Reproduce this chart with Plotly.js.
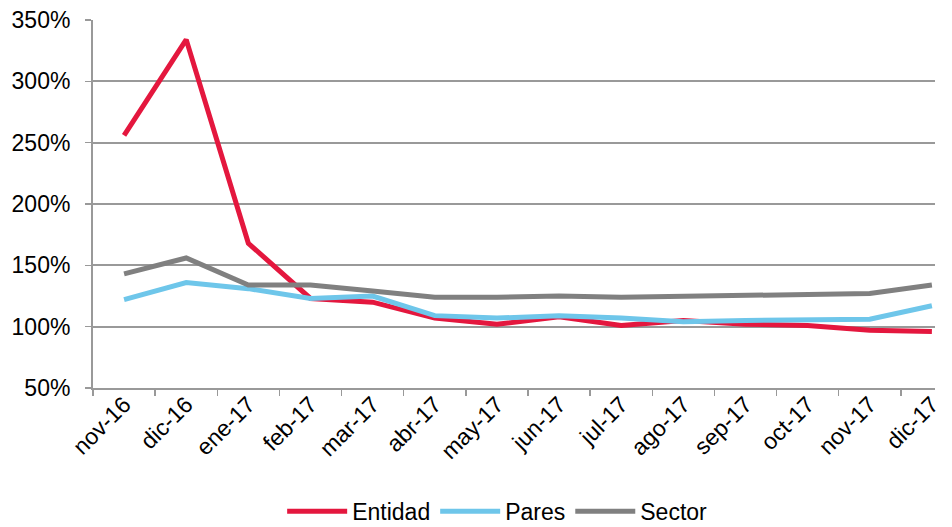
<!DOCTYPE html>
<html>
<head>
<meta charset="utf-8">
<script src="https://cdn.plot.ly/plotly-3.0.1.min.js"></script>
<style>html,body{margin:0;padding:0;background:#fff;}#chart{width:952px;height:527px;}</style>
</head>
<body>
<div id="chart"></div>
<script>
const categories = ["nov-16","dic-16","ene-17","feb-17","mar-17","abr-17","may-17","jun-17","jul-17","ago-17","sep-17","oct-17","nov-17","dic-17"];
const entidad = [256, 334, 168, 123, 120, 107, 102, 108, 101, 105, 102, 101, 97, 96];
const pares   = [122, 136, 131, 123, 125, 109, 107, 109, 107, 104, 105, 105, 106, 117];
const sector  = [143, 156, 134, 134, 129, 124, 124, 125, 124, 125, 125, 126, 127, 134];
const yTicks = [50, 100, 150, 200, 250, 300, 350];

const mk = (name, y, color) => ({
  type: "scatter", mode: "lines", name: name,
  x: categories, y: y,
  line: {color: color, width: 5}
});

const data = [
  mk("Entidad", entidad, "#E4173E"),
  mk("Pares", pares, "#6EC6EA"),
  mk("Sector", sector, "#808080")
];

const font = {family: "Liberation Sans, Arial, sans-serif", size: 23, color: "#000"};

const layout = {
  width: 952, height: 527,
  margin: {l: 93, r: 17, t: 20, b: 139},
  paper_bgcolor: "#fff", plot_bgcolor: "#fff",
  font: font,
  showlegend: true,
  legend: {orientation: "h", x: 0.48, xanchor: "center", xref: "paper",
           y: 0.03, yref: "container", yanchor: "middle",
           font: font, itemwidth: 60, traceorder: "normal"},
  xaxis: {
    type: "category",
    range: [-0.5, 13.05],
    tickangle: -45, tickfont: font, ticklabelstandoff: -8,
    showgrid: false, zeroline: false,
    showline: true, linecolor: "#999", linewidth: 2,
    ticks: "outside", tickson: "boundaries", ticklen: 6, tickcolor: "#999", tickwidth: 1.5
  },
  yaxis: {
    range: [50, 350],
    tickmode: "array", tickvals: yTicks, ticktext: yTicks.map(v => v + "%"),
    tickfont: font, ticklabelstandoff: 10,
    showgrid: true, gridcolor: "#999", gridwidth: 2,
    zeroline: false,
    showline: true, linecolor: "#999", linewidth: 2,
    ticks: "outside", ticklen: 6, tickcolor: "#999", tickwidth: 1.5
  }
};

Plotly.newPlot("chart", data, layout, {displayModeBar: false, staticPlot: true});
</script>
</body>
</html>
